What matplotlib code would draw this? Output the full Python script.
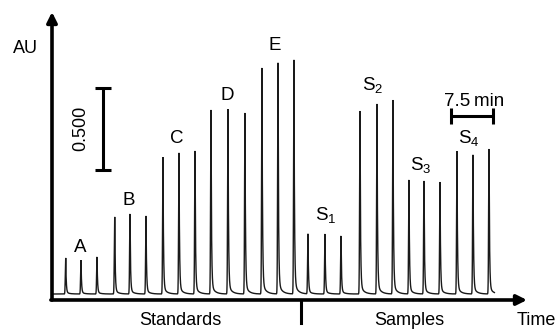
import numpy as np
import matplotlib
matplotlib.use("Agg")
import matplotlib.pyplot as plt

plt.rcParams['font.family'] = ['Liberation Sans', 'DejaVu Sans']
plt.rcParams['mathtext.fontset'] = 'custom'
plt.rcParams['mathtext.rm'] = 'Liberation Sans'

# ---- data (time in min, absorbance in AU) ----
groups = ["A", "B", "C", "D", "E", "S1", "S2", "S3", "S4"]
peak_times = [2.45, 5.18, 8.04, 11.2, 13.93, 16.79, 19.82, 22.68, 25.54,
              28.39, 31.43, 34.46, 37.5, 40.36, 43.21, 45.71, 48.75, 51.61,
              55.0, 58.04, 60.89, 63.75, 66.43, 69.29, 72.32, 75.18, 78.04]
peak_heights = [0.220, 0.207, 0.226, 0.470, 0.488, 0.476, 0.835, 0.860, 0.872,
                1.122, 1.128, 1.104, 1.378, 1.409, 1.427, 0.366, 0.366, 0.354,
                1.116, 1.159, 1.183, 0.695, 0.689, 0.683, 0.872, 0.848, 0.884]
au_bar = 0.500
time_bar = 7.5

# ---- pixel mapping ----
W, H = 560, 329
X0, Y0 = 52, 294          # pixel of t=0, AU=0
SX, SY = 5.6, 164.0       # px per min, px per AU

def px(x, y):
    return (x - X0) / SX, (Y0 - y) / SY

fig = plt.figure(figsize=(W / 100, H / 100), dpi=100)
ax = fig.add_axes([0, 0, 1, 1])
ax.set_xlim(-X0 / SX, (W - X0) / SX)
ax.set_ylim((Y0 - H) / SY, Y0 / SY)
ax.axis('off')

# ---- signal built from peak table ----
t = np.arange(0.3, 79.0, 0.003)
sig = np.zeros_like(t)
for t0, h in zip(peak_times, peak_heights):
    dt = t - t0
    pos = np.clip(dt, 0, None)
    rise = np.exp(-0.5 * (dt / 0.07) ** 2)
    tail = 0.95 * np.exp(-pos / 0.09) + 0.05 * np.exp(-pos / 0.6)
    sig += h * np.where(dt < 0, rise, tail)
ax.plot(t, sig, color='#1a1a1a', lw=1.0, solid_joinstyle='miter')

# ---- axes with arrows ----
ax_y = px(0, 300)[1]
ytop = px(0, 12)[1]
xend = px(527, 0)[0]
ax.annotate('', xy=(0, ytop), xytext=(0, ax_y),
            arrowprops=dict(arrowstyle='-|>', lw=2.6, color='black',
                            mutation_scale=15, shrinkA=0, shrinkB=0))
ax.annotate('', xy=(xend, ax_y), xytext=(-0.2, ax_y),
            arrowprops=dict(arrowstyle='-|>', lw=2.6, color='black',
                            mutation_scale=15, shrinkA=0, shrinkB=0))
# separator tick
tx = px(301, 0)[0]
ax.plot([tx, tx], [ax_y, px(0, 323)[1]], color='black', lw=2.2)

# ---- scale bars ----
bx, b0 = px(103, 170)
ax.errorbar([bx], [b0 + au_bar / 2], yerr=[au_bar / 2], color='black',
            lw=2.2, capsize=6, capthick=2.2, fmt='none')
tx0, ty = px(451, 116)
ax.errorbar([tx0 + time_bar / 2], [ty], xerr=[time_bar / 2], color='black',
            lw=2.2, capsize=6, capthick=2.2, fmt='none')
ax.text(*px(81, 128), f"{au_bar:.3f}", rotation=90, ha='center', va='center', fontsize=13)
ax.text(*px(474, 106), f"{time_bar}\u2009min", ha='center', va='baseline', fontsize=13.5)

# ---- labels ----
fs = 13.5
lab_pos = {"A": (80, 252), "B": (129, 205), "C": (177, 143), "D": (227, 100),
           "E": (275, 50)}
for g, (x, y) in lab_pos.items():
    ax.text(*px(x, y), g, ha='center', va='baseline', fontsize=fs)
s_pos = {"S1": (315, 220), "S2": (362, 90), "S3": (410, 170), "S4": (458, 143)}
for g, (x, y) in s_pos.items():
    ax.text(*px(x, y), r"$\mathregular{S_%s}$" % g[1], ha='left', va='baseline', fontsize=fs)

ax.text(*px(25, 53), "AU", ha='center', va='baseline', fontsize=13)
ax.text(*px(180, 325), "Standards", ha='center', va='baseline', fontsize=13)
ax.text(*px(409, 325), "Samples", ha='center', va='baseline', fontsize=13)
ax.text(*px(517, 325), "Time", ha='left', va='baseline', fontsize=13)

fig.savefig("out.png", dpi=100)
